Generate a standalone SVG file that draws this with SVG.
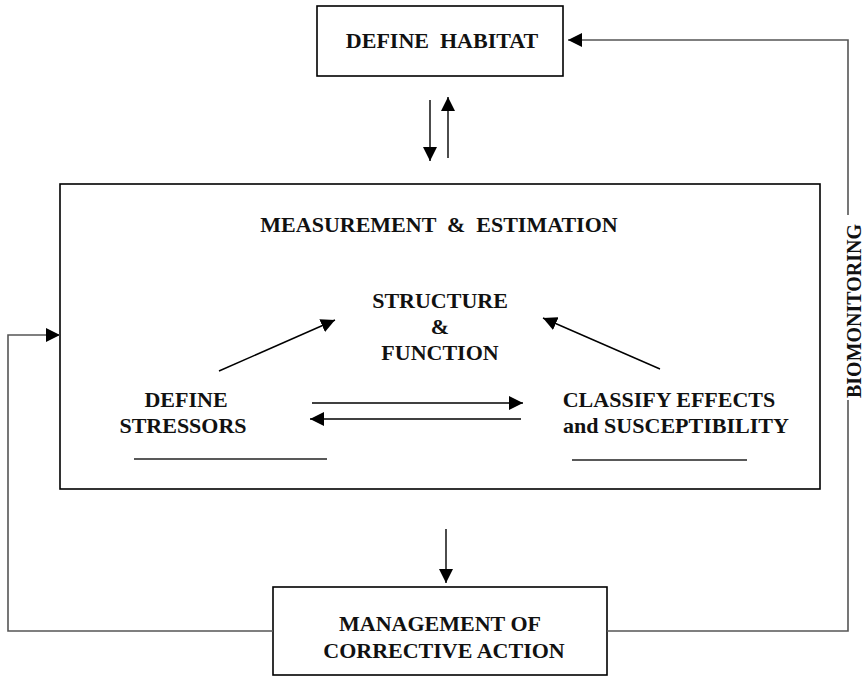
<svg xmlns="http://www.w3.org/2000/svg" width="865" height="676" viewBox="0 0 865 676">
  <style>
    .box { fill: #fff; stroke: #000; stroke-width: 1.6; }
    .lbl { font-family: "Liberation Serif", "Times New Roman", serif; font-weight: bold; font-size: 22px; fill: #111; text-anchor: middle; white-space: pre; }
    .arr { fill: none; stroke: #000; stroke-width: 1.4; }
    .loop { fill: none; stroke: #555; stroke-width: 1.6; }
    .rule { stroke: #222; stroke-width: 1.3; }
  </style>
  <defs>
    <marker id="head" viewBox="0 0 10 10" refX="10" refY="5" markerWidth="14" markerHeight="14" markerUnits="userSpaceOnUse" orient="auto">
      <path d="M0,0 L10,5 L0,10 Z" fill="#000"/>
    </marker>
  </defs>
  <rect width="865" height="676" fill="#fff"/>

  <g id="measurement">
    <rect class="box" x="60" y="184" width="760" height="305"/>
    <text class="lbl" x="439" y="232" xml:space="preserve">MEASUREMENT  &amp;  ESTIMATION</text>
  </g>

  <g id="define-habitat">
    <rect class="box" x="317" y="6" width="246" height="70"/>
    <text class="lbl" x="442" y="48" xml:space="preserve">DEFINE  HABITAT</text>
  </g>

  <g id="structure-function">
    <text class="lbl" x="440" y="308">STRUCTURE</text>
    <text class="lbl" x="440" y="334">&amp;</text>
    <text class="lbl" x="440" y="360">FUNCTION</text>
  </g>

  <g id="define-stressors">
    <text class="lbl" x="186" y="407">DEFINE</text>
    <text class="lbl" x="183" y="433">STRESSORS</text>
    <line class="rule" x1="134" y1="459" x2="327" y2="459"/>
  </g>

  <g id="classify-effects">
    <text class="lbl" x="669" y="407">CLASSIFY EFFECTS</text>
    <text class="lbl" x="676" y="433" textLength="226" lengthAdjust="spacingAndGlyphs">and SUSCEPTIBILITY</text>
    <line class="rule" x1="572" y1="460" x2="747" y2="460"/>
  </g>

  <g id="management">
    <rect class="box" x="273" y="587" width="334" height="88"/>
    <text class="lbl" x="440" y="631">MANAGEMENT OF</text>
    <text class="lbl" x="444" y="658">CORRECTIVE ACTION</text>
  </g>

  <g id="biomonitoring-label">
    <text class="lbl" transform="translate(861,311) rotate(-90)" textLength="174" lengthAdjust="spacingAndGlyphs">BIOMONITORING</text>
  </g>

  <g id="connectors">
    <line class="arr" x1="430" y1="100" x2="430" y2="161" marker-end="url(#head)"/>
    <line class="arr" x1="448" y1="158" x2="448" y2="97" marker-end="url(#head)"/>
    <line class="arr" x1="219" y1="371" x2="335" y2="320" marker-end="url(#head)"/>
    <line class="arr" x1="660" y1="369" x2="543" y2="318" marker-end="url(#head)"/>
    <line class="arr" x1="312" y1="403" x2="523" y2="403" marker-end="url(#head)"/>
    <line class="arr" x1="521" y1="419" x2="310" y2="419" marker-end="url(#head)"/>
    <line class="arr" x1="446" y1="529" x2="446" y2="583" marker-end="url(#head)"/>
    <polyline class="loop" points="607,631 848,631 848,400"/>
    <polyline class="loop" points="848,215 848,40 568,40" marker-end="url(#head)"/>
    <polyline class="loop" points="273,631 8,631 8,335 60,335" marker-end="url(#head)"/>
  </g>
</svg>
